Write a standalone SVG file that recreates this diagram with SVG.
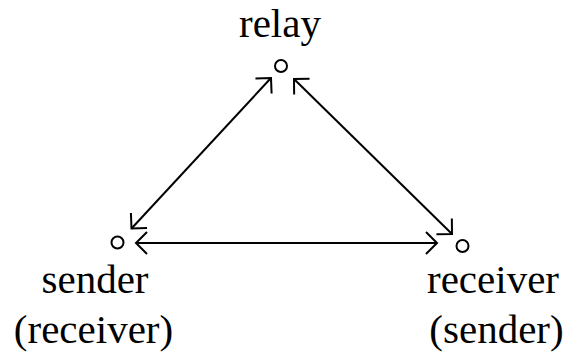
<svg xmlns="http://www.w3.org/2000/svg" width="567" height="352" viewBox="0 0 567 352">
<style>
.lbl{font-family:"Liberation Serif","Times New Roman",serif;font-size:41px;fill:#000;text-anchor:middle}
.node{fill:#fff;stroke:#000;stroke-width:2}
.edge{stroke:#000;stroke-width:2;fill:none;marker-start:url(#ah);marker-end:url(#ah)}
</style>
<defs>
<marker id="ah" markerUnits="userSpaceOnUse" viewBox="-13 -12 15 24" markerWidth="15" markerHeight="24" refX="0" refY="0" orient="auto-start-reverse">
<path d="M-11,-11 L0,0 L-11,11" fill="none" stroke="#000" stroke-width="2"/>
</marker>
</defs>
<rect width="567" height="352" fill="#fff"/>
<g id="connectors">
<line class="edge" x1="131.5" y1="228.5" x2="271" y2="78"/>
<line class="edge" x1="294" y1="79" x2="452" y2="234"/>
<line class="edge" x1="136" y1="243" x2="437" y2="243"/>
</g>
<g id="relay">
<circle class="node" cx="281" cy="66" r="6"/>
<text class="lbl" x="280" y="37">relay</text>
</g>
<g id="sender">
<circle class="node" cx="117.5" cy="242.5" r="6"/>
<text class="lbl" x="95" y="293">sender</text>
<text class="lbl" x="93.5" y="343">(receiver)</text>
</g>
<g id="receiver">
<circle class="node" cx="462.5" cy="246" r="6"/>
<text class="lbl" x="493" y="293">receiver</text>
<text class="lbl" x="496.5" y="343">(sender)</text>
</g>
</svg>
